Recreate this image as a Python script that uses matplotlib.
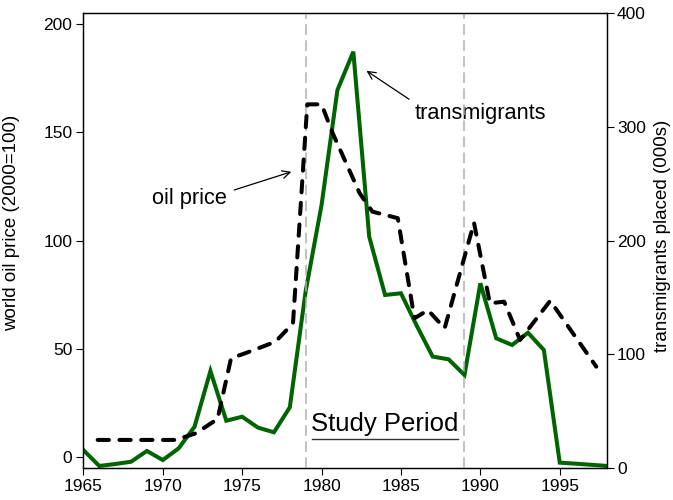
import matplotlib
matplotlib.use("Agg")
import matplotlib.pyplot as plt

plt.rcParams['font.family'] = ['Liberation Sans', 'DejaVu Sans']

# transmigrants placed (000s), annual
years = list(range(1965, 1999))
transmig = [15.8, 1.8, 3.5, 5.5, 15, 7, 17.3, 36.3, 85.3, 41.6,
            45.1, 35.5, 31.4, 53.4, 155.7, 231.4, 332.5, 366.2, 203.5, 152.2,
            153.7, 125, 98, 95.6, 81.8, 162.5, 114.1, 108.2, 119, 103.8,
            4.7, 3.8, 2.8, 1.8]

# world oil price (2000=100)
oil_x = [1965.9, 1970.8, 1972.1, 1973.45, 1974.3, 1975.2, 1977.1, 1978.2,
         1979.1, 1980.0, 1980.7, 1982.4, 1983.2, 1984.8, 1985.85, 1986.7,
         1987.75, 1989.6, 1990.6, 1991.5, 1992.5, 1994.4, 1997.3]
oil = [8.1, 8.1, 11.2, 17.8, 45.8, 48.1, 53.4, 61.9,
       162.9, 162.9, 149.6, 121.9, 113.4, 110.4, 64.2, 68,
       59.6, 108.3, 71.1, 71.9, 54.2, 72.3, 41.9]

study = (1979, 1989)

fig = plt.figure(figsize=(6.73, 5.0), dpi=100)
ax = fig.add_axes([0.1239, 0.064, 0.7786, 0.9094])
ax2 = ax.twinx()
ax.set_zorder(ax2.get_zorder() + 1)
ax.patch.set_visible(False)

ax2.plot(years, transmig, color='#006400', lw=2.9, solid_joinstyle='miter')
ax.plot(oil_x, oil, color='black', lw=2.9, linestyle=(0, (2.8, 2.6)),
        dash_capstyle='round', solid_capstyle='round')

for yr in study:
    ax.axvline(yr, color='#b0b0b0', lw=1.1, linestyle=(0, (7, 3.5)), zorder=0)

ax.set_xlim(1965, 1998)
ax.set_ylim(-4.85, 204.9)
ax2.set_ylim(0, 400)

ax.set_xticks(range(1965, 1996, 5))
ax.set_yticks(range(0, 201, 50))
ax2.set_yticks(range(0, 401, 100))

for a in (ax, ax2):
    a.tick_params(direction='out', length=5, width=0.8, labelsize=12.5, pad=3)
    for s in a.spines.values():
        s.set_linewidth(0.9)
ax2.tick_params(pad=2)

ax.set_ylabel("world oil price (2000=100)", fontsize=13.5, va='center')
ax2.set_ylabel("transmigrants placed (000s)", fontsize=13.5, va='center')
ax.yaxis.set_label_coords(-0.1363, 0.54)
ax2.yaxis.set_label_coords(1.1061, 0.51)

# annotations
ax.annotate("", xy=(1978.1, 131.8), xytext=(1974.5, 123.4),
            arrowprops=dict(arrowstyle='->', lw=0.9, color='black',
                            mutation_scale=14, shrinkA=0, shrinkB=0))
ax.text(1971.66, 116.9, "oil price", fontsize=15.7, ha='center', va='baseline')

ax2.annotate("", xy=(1982.83, 349.4), xytext=(1985.51, 324.4),
             arrowprops=dict(arrowstyle='->', lw=0.9, color='black',
                             mutation_scale=14, shrinkA=0, shrinkB=0))
ax2.text(1990.02, 307.2, "transmigrants", fontsize=15.7, ha='center', va='baseline')

ax.text(1983.99, 12.3, "Study Period", fontsize=18.5, ha='center', va='baseline')
ax.plot([1979.4, 1988.6], [8.3, 8.3], color='#333333', lw=1.0)

fig.savefig("out.png", dpi=100)
